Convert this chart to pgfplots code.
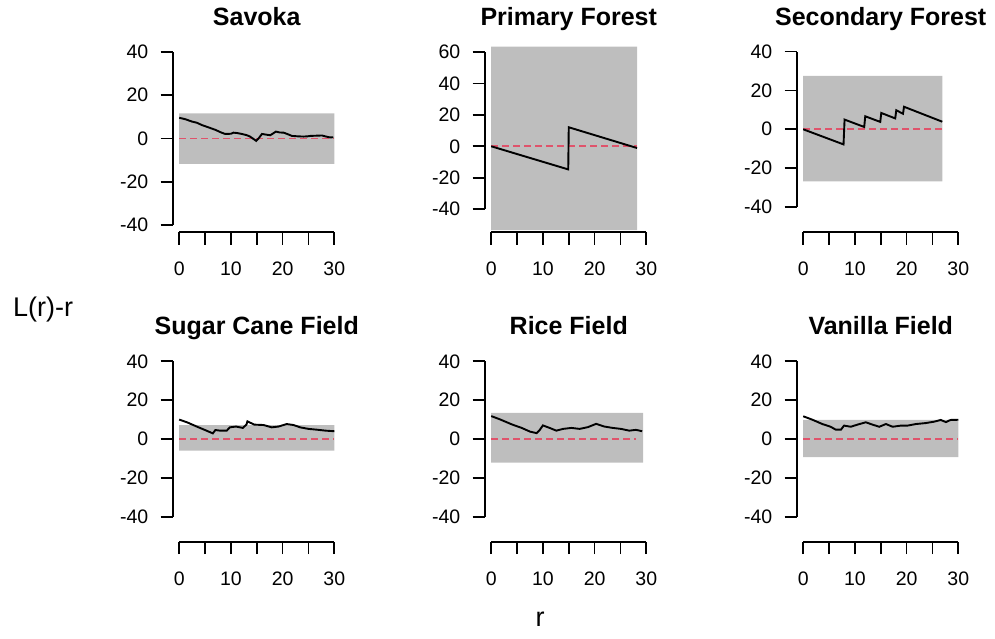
\documentclass[border=0pt]{standalone}
\usepackage{fontspec}
\setmainfont{Liberation Sans}
\usepackage{pgfplots}
\pgfplotsset{compat=1.18}

\definecolor{envgrey}{RGB}{190,190,190}
\definecolor{theored}{RGB}{223,83,107}

\pgfplotsset{
  rpanel/.style={
    scale only axis, width=167.5pt, height=187pt,
    xmin=-1.2, xmax=31.2,
    axis x line*=bottom, axis y line*=left,
    axis line style={draw=none},
    tick align=outside, major tick length=12.5pt,
    tick style={black, line width=1.7pt},
    xtick={0,5,...,30}, xticklabels={0,,10,,20,,30},
    ytick distance=20,
    tick label style={font=\fontsize{19.5}{19.5}\selectfont},
    xticklabel style={anchor=north, inner sep=0pt, yshift=-17.5pt},
    yticklabel style={anchor=east, inner sep=0pt, xshift=-12pt},
    /pgf/number format/assume math mode=true,
    title style={font=\fontsize{25}{25}\selectfont\bfseries,
      at={(0.5,1)}, anchor=base, yshift=14pt},
    clip=false,
  },
  env/.style={fill=envgrey, draw=none},
  obs/.style={black, line width=1.9pt, line join=miter},
  theo/.style={theored, line width=1.6pt, dash pattern=on 6.5pt off 4.5pt},
}

% R-style axis segments running from the first to the last tick
\newcommand{\raxes}[2]{%
  \draw[line width=1.7pt] ({axis cs:0,0}|-{rel axis cs:0,0}) -- ({axis cs:30,0}|-{rel axis cs:0,0});
  \draw[line width=1.7pt] ({rel axis cs:0,0}|-{axis cs:0,#1}) -- ({rel axis cs:0,0}|-{axis cs:0,#2});
}

\begin{document}
\begin{tikzpicture}[x=1pt,y=1pt]
\useasboundingbox (0,0) rectangle (995,-638);

% ---------------- Savoka
\begin{axis}[rpanel, at={(173pt,-232pt)}, anchor=south west,
  ymin=-43.2, ymax=43.2, title={Savoka}]
  \addplot[env] coordinates {(0,-11.7) (30,-11.7) (30,11.6) (0,11.6) (0,-11.7)};
  \addplot[theo] coordinates {(0,0) (30,0)};
  \addplot[obs] coordinates {
    (0,9.6) (1.2,8.9) (2.5,7.8) (3.4,7.3) (4.4,6.2) (5.6,5.2) (7,4.0)
    (8.1,2.8) (8.9,2.1) (10,2.2) (10.5,2.7) (11.3,2.5) (12.1,2.1) (13,1.6)
    (13.7,0.9) (14.9,-1.1) (15.4,0.2) (16,2.1) (16.8,1.8) (17.6,1.5)
    (18.2,2.4) (18.7,3.2) (19.4,2.8) (20.2,2.7) (21,2.0) (21.8,1.2)
    (23,1.0) (24,0.9) (24.8,1.0) (25.4,1.2) (26.5,1.3) (27.6,1.4)
    (28.4,0.9) (29.2,0.5) (29.8,0.6)};
  \raxes{-40}{40}
\end{axis}

% ---------------- Primary Forest
\begin{axis}[rpanel, at={(485pt,-232pt)}, anchor=south west,
  ymin=-54.5, ymax=64.4, title={Primary Forest}]
  \addplot[env] coordinates {(0,-53.3) (28.2,-53.3) (28.2,63.4) (0,63.4) (0,-53.3)};
  \addplot[theo] coordinates {(0,0) (28.2,0)};
  \addplot[obs] coordinates {(0,0) (14.9,-14.7) (15.0,12.1) (28.2,-1.1)};
  \raxes{-40}{60}
\end{axis}

% ---------------- Secondary Forest
\begin{axis}[rpanel, at={(797pt,-232pt)}, anchor=south west,
  ymin=-52.9, ymax=43.4, title={Secondary Forest}]
  \addplot[env] coordinates {(0,-26.8) (26.9,-26.8) (26.9,27.5) (0,27.5) (0,-26.8)};
  \addplot[theo] coordinates {(0,0) (26.9,0)};
  \addplot[obs] coordinates {
    (0,0) (7.8,-7.8) (8.0,5.0) (11.8,1.2) (12.0,6.7) (14.9,3.8)
    (15.1,8.4) (17.8,5.6) (18.0,9.8) (19.3,8.0) (19.5,11.6) (26.9,3.9)};
  \raxes{-40}{40}
\end{axis}

% ---------------- Sugar Cane Field
\begin{axis}[rpanel, at={(173pt,-541.7pt)}, anchor=south west,
  ymin=-52.9, ymax=43.4, title={Sugar Cane Field}]
  \addplot[env] coordinates {(0,-6.0) (30,-6.0) (30,7.2) (0,7.2) (0,-6.0)};
  \addplot[theo] coordinates {(0,0) (30,0)};
  \addplot[obs] coordinates {
    (0,10.0) (1.5,8.6) (3.4,6.4) (5.0,4.6) (6.5,2.9) (7.0,4.6) (7.9,4.3)
    (9.2,4.3) (9.8,6.0) (11,6.4) (12.3,5.7) (13,7.4) (13.2,9.1) (14.5,7.4)
    (16.3,7.2) (17.9,6.0) (19.2,6.4) (20.8,7.7) (22.1,7.2) (23.4,6.0)
    (25,5.2) (26.6,4.8) (28.3,4.3) (30,4.0)};
  \raxes{-40}{40}
\end{axis}

% ---------------- Rice Field
\begin{axis}[rpanel, at={(485pt,-541.7pt)}, anchor=south west,
  ymin=-52.9, ymax=43.4, title={Rice Field}]
  \addplot[env] coordinates {(0,-12.2) (29.4,-12.2) (29.4,13.4) (0,13.4) (0,-12.2)};
  \addplot[theo] coordinates {(0,0) (28,0)};
  \addplot[obs] coordinates {
    (0,11.8) (1.7,10.1) (4,7.5) (5.9,5.7) (7.5,3.8) (8.8,3.0) (9.4,4.7)
    (10,7.0) (11.3,5.7) (12.6,4.3) (13.9,5.2) (15.5,5.7) (17.1,5.2)
    (18.7,6.1) (20.3,7.8) (21.9,6.4) (23.5,5.7) (25.1,5.2) (26.7,4.3)
    (28,4.7) (29.2,4.0)};
  \raxes{-40}{40}
\end{axis}

% ---------------- Vanilla Field
\begin{axis}[rpanel, at={(797pt,-541.7pt)}, anchor=south west,
  ymin=-52.9, ymax=43.4, title={Vanilla Field}]
  \addplot[env] coordinates {(0,-9.4) (30,-9.4) (30,9.9) (0,9.9) (0,-9.4)};
  \addplot[theo] coordinates {(0,0) (30,0)};
  \addplot[obs] coordinates {
    (0,11.7) (1.8,9.9) (3.7,7.7) (5.3,6.3) (6.3,4.8) (7.3,4.8) (7.9,6.9)
    (9.2,6.3) (10.5,7.4) (12.1,8.6) (13.4,7.4) (14.7,6.3) (16,7.7)
    (17.3,6.3) (18.9,6.9) (20.2,6.9) (21.8,7.7) (23.7,8.2) (25.3,8.9)
    (26.6,9.8) (27.6,8.7) (28.5,9.8) (30,9.9)};
  \raxes{-40}{40}
\end{axis}

% outer labels
\node[anchor=base west, inner sep=0pt, font=\fontsize{27}{27}\selectfont] at (13,-316.7) {L(r)-r};
\node[anchor=base, inner sep=0pt, font=\fontsize{27}{27}\selectfont] at (540,-626.7) {r};
\end{tikzpicture}
\end{document}
